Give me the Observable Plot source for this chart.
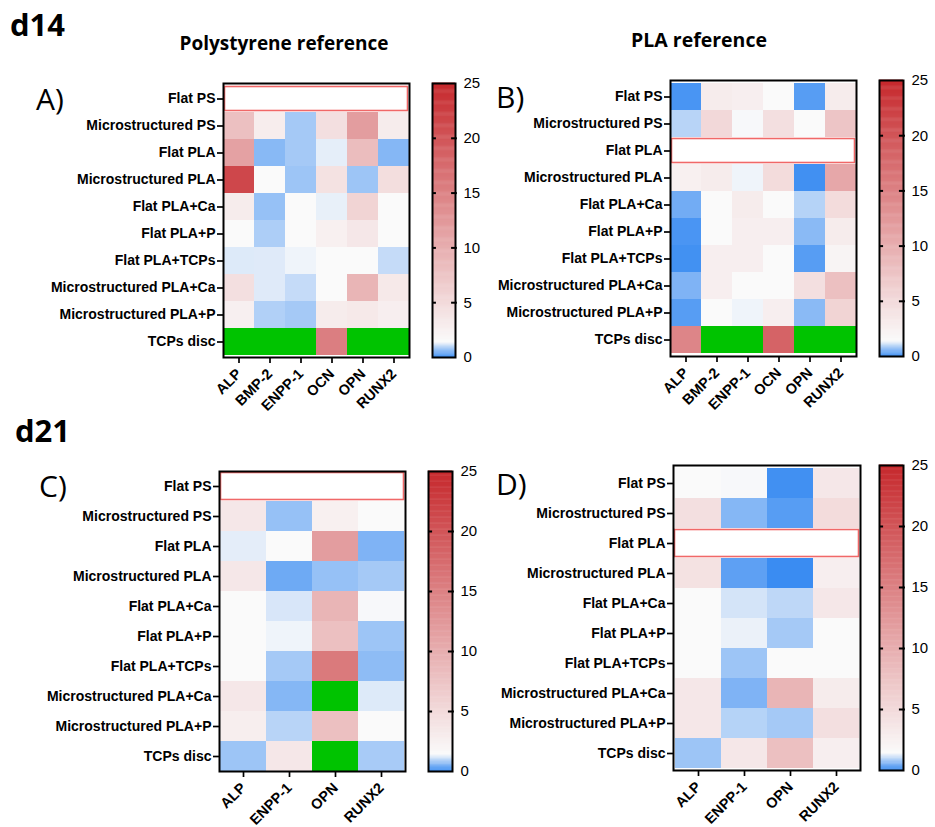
<!DOCTYPE html>
<html>
<head>
<meta charset="utf-8">
<script src="https://cdn.jsdelivr.net/npm/d3@7"></script>
<script src="https://cdn.jsdelivr.net/npm/@observablehq/plot@0.6"></script>
<style>
  html, body { margin: 0; padding: 0; background: white; }
  #page { position: relative; width: 935px; height: 827px; overflow: hidden; background: white; }
  #page > svg { position: absolute; }
  .hm text { font-family: 'Liberation Sans', Arial, sans-serif !important; font-size: 14px !important; font-weight: bold !important; }
  .hm [aria-label^="x-axis"] text { font-size: 14.5px !important; }
  .hm [aria-label^="x-axis"] path, .hm [aria-label^="y-axis"] path,
  .hm [aria-label^="x-axis"] line, .hm [aria-label^="y-axis"] line { stroke-width: 1.7px; }
</style>
</head>
<body>
<div id="page"></div>
<script>
// ---------- data ----------
const rows = ["Flat PS", "Microstructured PS", "Flat PLA", "Microstructured PLA", "Flat PLA+Ca",
  "Flat PLA+P", "Flat PLA+TCPs", "Microstructured PLA+Ca", "Microstructured PLA+P", "TCPs disc"];
const genesD14 = ["ALP", "BMP-2", "ENPP-1", "OCN", "OPN", "RUNX2"];
const genesD21 = ["ALP", "ENPP-1", "OPN", "RUNX2"];
const colorTicks = [0, 5, 10, 15, 20, 25];

// fold change vs reference; null = not detected (green)
const valuesA = [
  [1, 1, 1, 1, 1, 1],
  [7.9, 2.9, 0.78, 4.4, 11.8, 3.0],
  [11.4, 0.57, 0.78, 1.25, 8.3, 0.55],
  [21.5, 1.4, 0.72, 4.1, 0.72, 4.6],
  [3.0, 0.67, 1.4, 1.27, 5.7, 1.4],
  [1.4, 0.84, 1.4, 2.5, 3.5, 1.4],
  [1.19, 1.2, 1.32, 1.4, 1.4, 1.01],
  [4.4, 1.2, 1.01, 1.4, 9.2, 3.3],
  [2.6, 0.87, 0.78, 3.0, 3.3, 2.7],
  [null, null, null, 15.3, null, null]
];
const valuesB = [
  [0.11, 3.0, 2.7, 1.4, 0.21, 3.0],
  [0.92, 5.2, 1.38, 4.4, 1.4, 7.4],
  [1, 1, 1, 1, 1, 1],
  [2.5, 3.0, 1.32, 4.8, 0.05, 10.7],
  [0.41, 1.4, 3.0, 1.4, 0.9, 4.8],
  [0.12, 1.4, 2.7, 2.7, 0.58, 3.0],
  [0.06, 2.7, 2.7, 1.4, 0.21, 2.1],
  [0.5, 2.7, 1.4, 1.4, 4.4, 7.9],
  [0.21, 1.4, 1.32, 2.7, 0.58, 5.7],
  [14.5, null, null, 18.4, null, null]
];
const valuesC = [
  [1, 1, 1, 1],
  [3.5, 0.67, 2.5, 1.4],
  [1.24, 1.4, 11.8, 0.5],
  [3.5, 0.38, 0.67, 0.78],
  [1.4, 1.15, 9.2, 1.38],
  [1.4, 1.32, 7.9, 0.72],
  [1.4, 0.78, 15.8, 0.61],
  [3.5, 0.55, null, 1.19],
  [2.8, 0.92, 7.9, 1.4],
  [0.72, 3.5, null, 0.8]
];
const valuesD = [
  [1.4, 1.38, 0.05, 3.5],
  [4.4, 0.55, 0.21, 4.8],
  [1, 1, 1, 1],
  [4.1, 0.26, 0.0, 2.7],
  [1.4, 1.12, 0.96, 3.5],
  [1.4, 1.29, 0.78, 1.4],
  [1.4, 0.72, 1.4, 1.4],
  [3.5, 0.5, 9.2, 3.0],
  [3.5, 0.9, 0.78, 4.4],
  [0.72, 3.5, 7.9, 2.7]
];
const refA = "Flat PS", refB = "Flat PLA", refC = "Flat PS", refD = "Flat PLA";

// ---------- styles ----------
const GREEN = "#00c300";
const REF_STROKE = "#f06868";
const colorScale = () => ({
  type: "linear", domain: [0, 1.4, 25], range: ["#3a8cf2", "#fafafa", "#c6282c"],
  interpolate: "rgb", clamp: true
});

const page = document.getElementById("page");

function place(svg, left, top) {
  svg.style.position = "absolute";
  svg.style.left = left + "px";
  svg.style.top = top + "px";
  page.appendChild(svg);
}

function heatmap(values, genes, refRow, f) {
  const data = [];
  rows.forEach((r, i) => genes.forEach((g, j) => data.push({row: r, gene: g, value: values[i][j]})));
  const ML = 215, MT = 12, MR = 12, MB = 75;
  const w = f.x1 - f.x0, h = f.y1 - f.y0;
  const svg = Plot.plot({
    className: "hm",
    width: ML + w + MR, height: MT + h + MB,
    marginLeft: ML, marginTop: MT, marginRight: MR, marginBottom: MB,
    style: {background: "none", fontFamily: "'Liberation Sans', Arial, sans-serif",
      fontSize: "14px", fontWeight: "bold", color: "black", overflow: "visible"},
    x: {domain: genes, padding: 0, label: null, tickRotate: -45, tickSize: 6, tickPadding: 8},
    y: {domain: rows, padding: 0, label: null, tickSize: 6, tickPadding: 2},
    color: colorScale(),
    marks: [
      Plot.cell(data.filter(d => d.row !== refRow && d.value != null), {x: "gene", y: "row", fill: "value"}),
      Plot.cell(data.filter(d => d.value == null), {x: "gene", y: "row", fill: GREEN}),
      Plot.cell([refRow], {y: d => d, fill: "white", stroke: REF_STROKE, strokeWidth: 1.6, inset: 1.5}),
      Plot.frame({stroke: "black", strokeWidth: 2})
    ]
  });
  place(svg, f.x0 - ML, f.y0 - MT);
}

function colorbar(f) {
  const steps = d3.range(0, 25, 0.1);
  const ML = 4, MR = 40, MT = 12, MB = 12;
  const w = f.x1 - f.x0, h = f.y1 - f.y0;
  const svg = Plot.plot({
    width: ML + w + MR, height: MT + h + MB,
    marginLeft: ML, marginRight: MR, marginTop: MT, marginBottom: MB,
    style: {background: "none", fontFamily: "'Liberation Sans', Arial, sans-serif",
      fontSize: "15px", color: "black", overflow: "visible"},
    x: {domain: [0, 1], axis: null},
    y: {domain: [0, 25], ticks: colorTicks, tickSize: 0, tickPadding: 8, label: null, axis: "right"},
    color: colorScale(),
    marks: [
      Plot.rect(steps, {x1: 0, x2: 1, y1: d => d, y2: d => d + 0.14, fill: d => d + 0.05}),
      Plot.ruleY(colorTicks.slice(1, -1), {x1: 0, x2: 0.17, strokeWidth: 2, stroke: "black"}),
      Plot.ruleY(colorTicks.slice(1, -1), {x1: 0.83, x2: 1.08, strokeWidth: 2, stroke: "black"}),
      Plot.frame({stroke: "black", strokeWidth: 2})
    ]
  });
  place(svg, f.x0 - ML, f.y0 - MT);
}

// ---------- panels ----------
heatmap(valuesA, genesD14, refA, {x0: 223, x1: 409, y0: 83, y1: 357});
heatmap(valuesB, genesD14, refB, {x0: 670, x1: 856, y0: 80, y1: 356});
heatmap(valuesC, genesD21, refC, {x0: 219, x1: 405, y0: 471, y1: 771});
heatmap(valuesD, genesD21, refD, {x0: 673, x1: 860, y0: 465, y1: 770});

colorbar({x0: 432, x1: 455, y0: 83, y1: 357});
colorbar({x0: 879, x1: 903, y0: 80, y1: 356});
colorbar({x0: 428, x1: 452, y0: 471, y1: 771});
colorbar({x0: 879, x1: 903, y0: 465, y1: 770});

// ---------- titles ----------
const titles = d3.select(page).append("svg")
  .attr("width", 935).attr("height", 827)
  .style("left", "0px").style("top", "0px").style("pointer-events", "none")
  .style("font-family", "'Open Sans', sans-serif");
const T = [
  {t: "d14", x: 10, y: 36, s: 31, w: "bold", a: "start"},
  {t: "d21", x: 15, y: 442, s: 31, w: "bold", a: "start"},
  {t: "Polystyrene reference", x: 284, y: 50, s: 19, w: "bold", a: "middle"},
  {t: "PLA reference", x: 699, y: 47, s: 19.5, w: "bold", a: "middle"},
  {t: "A)", x: 36, y: 110, s: 30, w: "normal", a: "start"},
  {t: "B)", x: 496, y: 108, s: 30, w: "normal", a: "start"},
  {t: "C)", x: 39, y: 497, s: 30, w: "normal", a: "start"},
  {t: "D)", x: 496, y: 495, s: 30, w: "normal", a: "start"}
];
titles.selectAll("text").data(T).join("text")
  .attr("x", d => d.x).attr("y", d => d.y)
  .attr("font-size", d => d.s).attr("font-weight", d => d.w)
  .attr("text-anchor", d => d.a).attr("fill", "black")
  .text(d => d.t);
</script>
</body>
</html>
